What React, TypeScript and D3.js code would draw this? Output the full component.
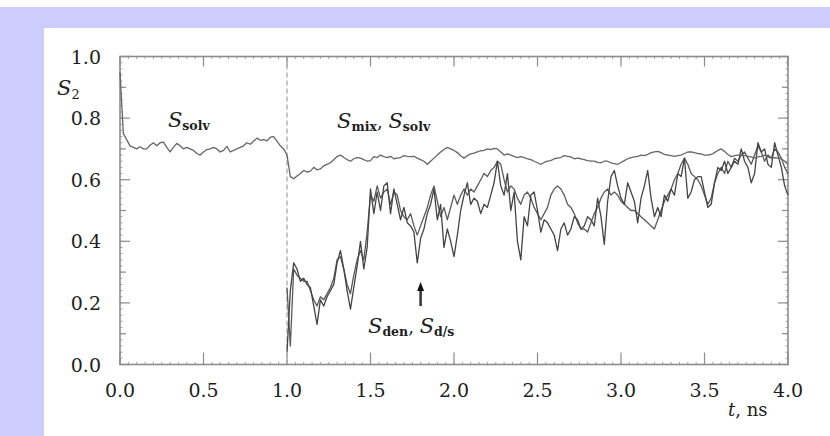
import React from "react";
import * as d3 from "d3";

// Time step of the sampled series (ns)
const STEP = 0.02;
const UPPER_START = 0.0;
const LOWER_START = 1.0;

// S_solv (0–1 ns) continued by S_mix / S_solv (1–4 ns)
const sUpper = [
  0.95, 0.75, 0.73, 0.71, 0.705, 0.7, 0.707, 0.7, 0.7, 0.712,
  0.72, 0.71, 0.72, 0.722, 0.705, 0.69, 0.705, 0.718, 0.71, 0.7,
  0.705, 0.7, 0.695, 0.685, 0.68, 0.69, 0.698, 0.7, 0.705, 0.7,
  0.69, 0.695, 0.708, 0.69, 0.695, 0.7, 0.705, 0.71, 0.72, 0.715,
  0.725, 0.735, 0.728, 0.73, 0.726, 0.738, 0.74, 0.725, 0.71, 0.7,
  0.68, 0.61, 0.603, 0.612, 0.62, 0.63, 0.625, 0.628, 0.64, 0.632,
  0.635, 0.645, 0.65, 0.655, 0.665, 0.675, 0.68, 0.672, 0.665, 0.66,
  0.668, 0.672, 0.67, 0.665, 0.66, 0.662, 0.675, 0.672, 0.68, 0.675,
  0.672, 0.676, 0.668, 0.67, 0.672, 0.678, 0.676, 0.675, 0.676, 0.67,
  0.665, 0.66, 0.65, 0.66, 0.67, 0.68, 0.69, 0.698, 0.705, 0.7,
  0.695, 0.688, 0.678, 0.67, 0.678, 0.684, 0.686, 0.69, 0.694, 0.695,
  0.7, 0.698, 0.702, 0.7, 0.69, 0.68, 0.684, 0.68, 0.676, 0.672,
  0.675, 0.672, 0.668, 0.665, 0.66, 0.655, 0.65, 0.656, 0.66, 0.662,
  0.668, 0.67, 0.672, 0.678, 0.676, 0.674, 0.668, 0.67, 0.668, 0.665,
  0.662, 0.66, 0.66, 0.656, 0.655, 0.66, 0.66, 0.655, 0.652, 0.65,
  0.656, 0.662, 0.668, 0.672, 0.674, 0.676, 0.68, 0.678, 0.682, 0.688,
  0.69, 0.692, 0.688, 0.682, 0.68, 0.678, 0.676, 0.678, 0.68, 0.685,
  0.69, 0.69, 0.688, 0.685, 0.684, 0.68, 0.68, 0.682, 0.688, 0.695,
  0.7, 0.692, 0.682, 0.675, 0.678, 0.68, 0.68, 0.678, 0.676, 0.674,
  0.67, 0.674, 0.676, 0.68, 0.674, 0.67, 0.672, 0.67, 0.668, 0.66,
  0.65,
];

// S_den (1–4 ns)
const sDen = [
  0.04, 0.24, 0.33, 0.31, 0.27, 0.28, 0.26, 0.25, 0.19, 0.13,
  0.21, 0.19, 0.22, 0.24, 0.26, 0.33, 0.37, 0.31, 0.24, 0.18,
  0.25, 0.32, 0.4, 0.31, 0.38, 0.57, 0.49, 0.56, 0.5, 0.58,
  0.59, 0.49, 0.57, 0.52, 0.47, 0.51, 0.46, 0.45, 0.43, 0.33,
  0.41, 0.44, 0.49, 0.52, 0.57, 0.47, 0.52, 0.38, 0.44, 0.4,
  0.35, 0.42, 0.5, 0.55, 0.59, 0.52, 0.54, 0.53, 0.49, 0.52,
  0.51, 0.55, 0.59, 0.66, 0.58, 0.55, 0.62, 0.5, 0.56, 0.4,
  0.34, 0.48, 0.45, 0.55, 0.56, 0.5, 0.43, 0.47, 0.46, 0.44,
  0.42, 0.37, 0.44, 0.46, 0.42, 0.44, 0.48, 0.47, 0.44, 0.45,
  0.48, 0.47, 0.45, 0.54, 0.48, 0.39, 0.53, 0.61, 0.63, 0.58,
  0.54, 0.52, 0.59, 0.56, 0.53, 0.46, 0.54, 0.58, 0.63, 0.54,
  0.48, 0.51, 0.48, 0.55, 0.53, 0.57, 0.55, 0.62, 0.61, 0.67,
  0.54, 0.56, 0.6, 0.61, 0.61, 0.56, 0.51, 0.52, 0.59, 0.64,
  0.63, 0.66, 0.62, 0.64, 0.66, 0.65, 0.7, 0.66, 0.64, 0.59,
  0.62, 0.72, 0.69, 0.7, 0.65, 0.64, 0.72, 0.68, 0.64, 0.58,
  0.55,
];

// S_d/s (1–4 ns)
const sDs = [
  0.25, 0.06, 0.31, 0.29, 0.28, 0.27, 0.27, 0.24, 0.21, 0.19,
  0.22, 0.21, 0.23, 0.25, 0.28, 0.34, 0.35, 0.31, 0.26, 0.23,
  0.29, 0.34, 0.37, 0.34, 0.43, 0.55, 0.53, 0.58, 0.54, 0.56,
  0.57, 0.52, 0.56, 0.55, 0.5, 0.48, 0.47, 0.49, 0.45, 0.42,
  0.45, 0.48, 0.51, 0.55, 0.58, 0.53, 0.48, 0.51, 0.47, 0.51,
  0.55, 0.52, 0.55, 0.57, 0.55, 0.57, 0.56, 0.58, 0.6, 0.62,
  0.61, 0.63, 0.64, 0.66, 0.65, 0.6, 0.56, 0.58, 0.57, 0.54,
  0.52, 0.55, 0.56, 0.54, 0.51, 0.49, 0.47, 0.49, 0.51, 0.55,
  0.57, 0.58, 0.57, 0.55, 0.52, 0.51, 0.49, 0.46, 0.44, 0.44,
  0.43, 0.46, 0.49, 0.51, 0.54, 0.56, 0.57, 0.55, 0.56, 0.55,
  0.53, 0.52, 0.51, 0.5, 0.5, 0.49, 0.48, 0.47, 0.46, 0.45,
  0.44, 0.47, 0.5, 0.53, 0.55, 0.57, 0.6, 0.62, 0.65, 0.67,
  0.65, 0.62, 0.61, 0.6, 0.58, 0.55, 0.52, 0.54, 0.59, 0.62,
  0.64, 0.62, 0.66, 0.64, 0.67, 0.66, 0.68, 0.69, 0.67, 0.65,
  0.68, 0.71, 0.69, 0.66, 0.68, 0.67, 0.7, 0.69, 0.67, 0.64,
  0.62,
];

const xTicks = [0, 0.5, 1.0, 1.5, 2.0, 2.5, 3.0, 3.5, 4.0];
const yTicks = [0, 0.2, 0.4, 0.6, 0.8, 1.0];
const xTickLabels = ["0.0", "0.5", "1.0", "1.5", "2.0", "2.5", "3.0", "3.5", "4.0"];
const yTickLabels = ["0.0", "0.2", "0.4", "0.6", "0.8", "1.0"];
const SWITCH_TIME = 1.0;
const ARROW_T = 1.8;
const ARROW_FROM = 0.19;
const ARROW_TO = 0.268;

const W = 830;
const H = 436;
const LAV = "#ccccff";
const FONT = "'DejaVu Serif', 'Liberation Serif', serif";

export default function App() {
  const x = d3.scaleLinear().domain([0, 4]).range([120, 788]);
  const y = d3.scaleLinear().domain([0, 1]).range([364.5, 56.5]);

  const toPts = (arr: number[], start: number) =>
    arr.map((v, i) => [start + i * STEP, v] as [number, number]);
  const line = d3
    .line<[number, number]>()
    .x((d) => x(d[0]))
    .y((d) => y(d[1]));

  const [x0, x1] = x.range();
  const [yb, yt] = y.range();

  const fineY = d3.range(0, 1.0001, 0.02);
  const minorY = d3.range(0.1, 1, 0.2);
  const fineX = d3.range(0, 4.0001, 0.05);

  const axisCol = "#8c8c8c";
  const textCol = "#1e1e1e";

  return (
    <svg
      width={W}
      height={H}
      style={{ position: "absolute", left: 0, top: 0, background: "#fff" }}
    >
      <rect x={0} y={0} width={W} height={H} fill="#fff" />
      <rect x={0} y={7} width={W} height={21} fill={LAV} />
      <rect x={0} y={7} width={44} height={H - 7} fill={LAV} />

      {/* fine ticks */}
      <g stroke={axisCol} strokeWidth={0.8}>
        {fineY.map((v, i) => (
          <g key={"fy" + i}>
            <line x1={x0} x2={x0 + 2.5} y1={y(v)} y2={y(v)} />
            <line x1={x1} x2={x1 - 2.5} y1={y(v)} y2={y(v)} />
          </g>
        ))}
        {fineX.map((t, i) => (
          <g key={"fx" + i}>
            <line x1={x(t)} x2={x(t)} y1={yt} y2={yt + 2.5} />
            <line x1={x(t)} x2={x(t)} y1={yb} y2={yb - 2.5} />
          </g>
        ))}
      </g>
      <g stroke={axisCol} strokeWidth={1.2}>
        {minorY.map((v, i) => (
          <g key={"my" + i}>
            <line x1={x0} x2={x0 + 6} y1={y(v)} y2={y(v)} />
            <line x1={x1} x2={x1 - 6} y1={y(v)} y2={y(v)} />
          </g>
        ))}
        {yTicks.map((v, i) => (
          <g key={"My" + i}>
            <line x1={x0} x2={x0 + 10} y1={y(v)} y2={y(v)} />
            <line x1={x1} x2={x1 - 10} y1={y(v)} y2={y(v)} />
          </g>
        ))}
        {xTicks.map((t, i) => (
          <g key={"Mx" + i}>
            <line x1={x(t)} x2={x(t)} y1={yt} y2={yt + 10} />
            <line x1={x(t)} x2={x(t)} y1={yb} y2={yb - 12} />
          </g>
        ))}
      </g>

      <line
        x1={x(SWITCH_TIME)}
        x2={x(SWITCH_TIME)}
        y1={yt}
        y2={yb}
        stroke="#aaa"
        strokeWidth={1.3}
        strokeDasharray="5,3"
      />

      <rect
        x={x0}
        y={yt}
        width={x1 - x0}
        height={yb - yt}
        fill="none"
        stroke={axisCol}
        strokeWidth={1.6}
      />

      {/* series */}
      <path
        d={line(toPts(sDs, LOWER_START)) || ""}
        fill="none"
        stroke="#5a5a5a"
        strokeWidth={1.3}
        strokeLinejoin="round"
      />
      <path
        d={line(toPts(sDen, LOWER_START)) || ""}
        fill="none"
        stroke="#444"
        strokeWidth={1.3}
        strokeLinejoin="round"
      />
      <path
        d={line(toPts(sUpper, UPPER_START)) || ""}
        fill="none"
        stroke="#666"
        strokeWidth={1.3}
        strokeLinejoin="round"
      />

      {/* tick labels */}
      <g fontFamily={FONT} fontSize={19} fill={textCol}>
        {yTicks.map((v, i) => (
          <text key={"yl" + i} x={101} y={y(v) + 7} textAnchor="end">
            {yTickLabels[i]}
          </text>
        ))}
        {xTicks.map((t, i) => (
          <text key={"xl" + i} x={x(t)} y={397} textAnchor="middle">
            {xTickLabels[i]}
          </text>
        ))}
      </g>

      {/* axis titles */}
      <g fontFamily={FONT} fill={textCol}>
        <text x={57} y={95} fontSize={21} fontStyle="italic">
          S<tspan fontSize={13} fontStyle="normal" dy={4}>2</tspan>
        </text>
        <text x={728} y={416} fontSize={18}>
          <tspan fontStyle="italic">t</tspan>, ns
        </text>
      </g>

      {/* annotations */}
      <g fontFamily={FONT} fill={textCol}>
        <text x={x(0.287)} y={y(0.771)} fontSize={21} fontStyle="italic">
          S
          <tspan fontSize={12.5} fontStyle="normal" fontWeight="bold" dy={3}>
            solv
          </tspan>
        </text>
        <text x={x(1.3)} y={y(0.768)} fontSize={21} fontStyle="italic">
          S
          <tspan fontSize={12.5} fontStyle="normal" fontWeight="bold" dy={3}>
            mix
          </tspan>
          <tspan fontStyle="normal" fontSize={18} dy={-3}>
            ,{" "}
          </tspan>
          <tspan>S</tspan>
          <tspan fontSize={12.5} fontStyle="normal" fontWeight="bold" dy={3}>
            solv
          </tspan>
        </text>
        <text x={x(1.485)} y={y(0.102)} fontSize={21} fontStyle="italic">
          S
          <tspan fontSize={12.5} fontStyle="normal" fontWeight="bold" dy={3}>
            den
          </tspan>
          <tspan fontStyle="normal" fontSize={18} dy={-3}>
            ,{" "}
          </tspan>
          <tspan>S</tspan>
          <tspan fontSize={12.5} fontStyle="normal" fontWeight="bold" dy={3}>
            d/s
          </tspan>
        </text>
      </g>

      {/* arrow */}
      <line
        x1={x(ARROW_T)}
        x2={x(ARROW_T)}
        y1={y(ARROW_FROM)}
        y2={y(ARROW_TO) + 6}
        stroke="#333"
        strokeWidth={2.5}
      />
      <path
        d={`M${x(ARROW_T)},${y(ARROW_TO)} L${x(ARROW_T) - 3.5},${y(ARROW_TO) + 9} L${x(ARROW_T) + 3.5},${y(ARROW_TO) + 9} Z`}
        fill="#111"
      />
    </svg>
  );
}
